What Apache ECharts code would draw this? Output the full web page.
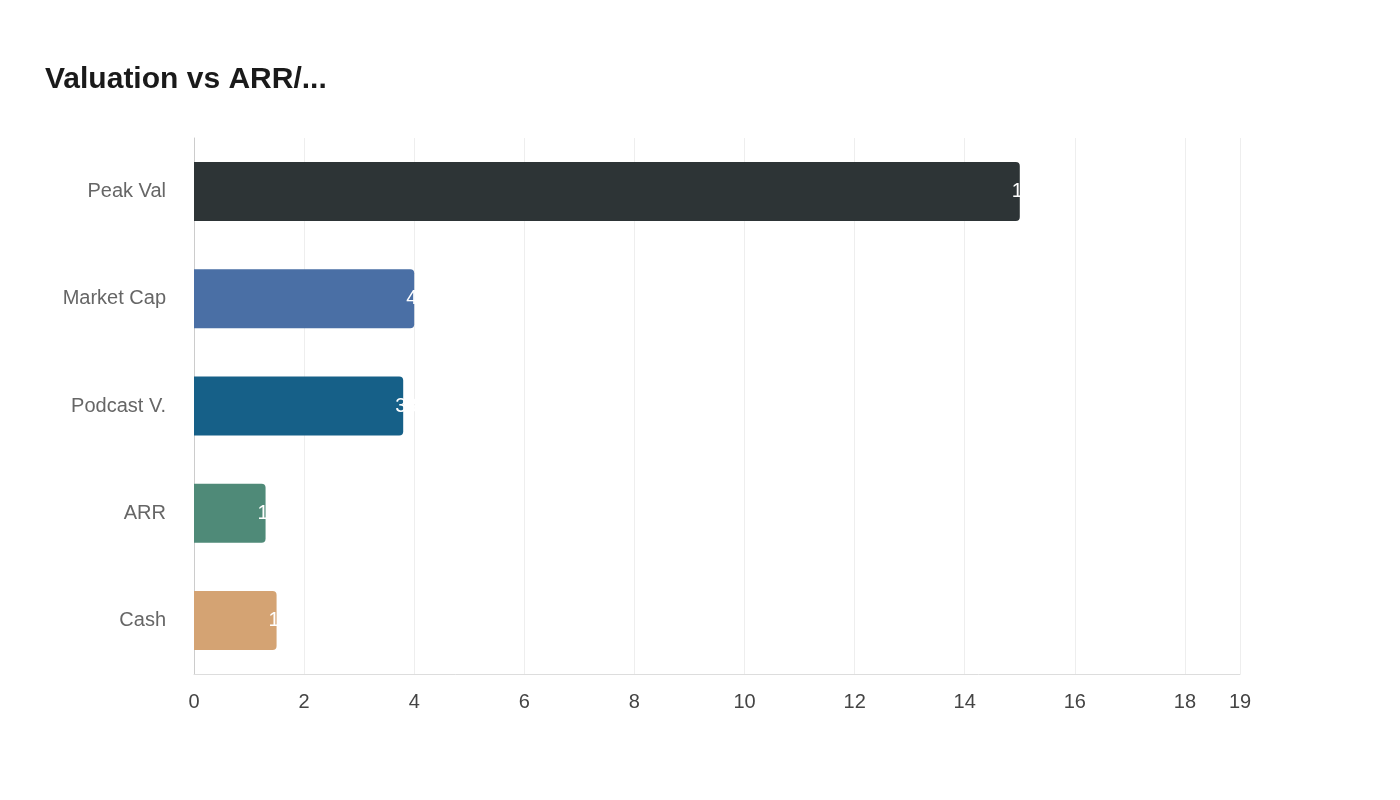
<!DOCTYPE html><html><head><meta charset="utf-8"><script src="https://cdn.jsdelivr.net/npm/echarts@6/dist/echarts.min.js"></script></head><body style="margin:0"><div id="c" style="width:1400px;height:800px"></div><script>
const categories=['Peak Val','Market Cap','Podcast V.','ARR','Cash'];
const values=[15,4,3.8,1.3,1.5];
const colors=['#2d3436','#4a6fa5','#166088','#4f8a78','#d4a373'];
const ticks=[0,2,4,6,8,10,12,14,16,18,19];
const c=echarts.init(document.getElementById('c'));
c.setOption({
title:{text:'Valuation vs ARR/...',left:40,top:60,textStyle:{fontFamily:'Liberation Sans',fontSize:30,fontWeight:'bold',color:'#1a1a1a'}},
grid:{left:194,right:160,top:138,bottom:126},
xAxis:{type:'value',min:0,max:19,interval:2,
 axisLine:{show:true,lineStyle:{color:'#ddd'}},axisTick:{show:true,lineStyle:{color:'#ddd'}},
 splitLine:{lineStyle:{color:'#eee'}},
 axisLabel:{fontFamily:'Liberation Sans',fontSize:20,color:'#444',margin:18,showMaxLabel:true,customValues:ticks},
 axisTick:{customValues:ticks,lineStyle:{color:'#ddd'}}},
yAxis:{type:'category',inverse:true,data:categories,axisLine:{lineStyle:{color:'#ccc'}},axisTick:{show:false},
 axisLabel:{fontFamily:'Liberation Sans',fontSize:20,color:'#666',margin:28}},
series:[{type:'bar',barWidth:'55%',data:values.map((v,i)=>({value:v,itemStyle:{color:colors[i],borderRadius:[0,4,4,0]}})),
 label:{show:true,position:'right',distance:-8,color:'#fff',fontSize:20,fontFamily:'Liberation Sans'}}]
});
</script></body></html>
